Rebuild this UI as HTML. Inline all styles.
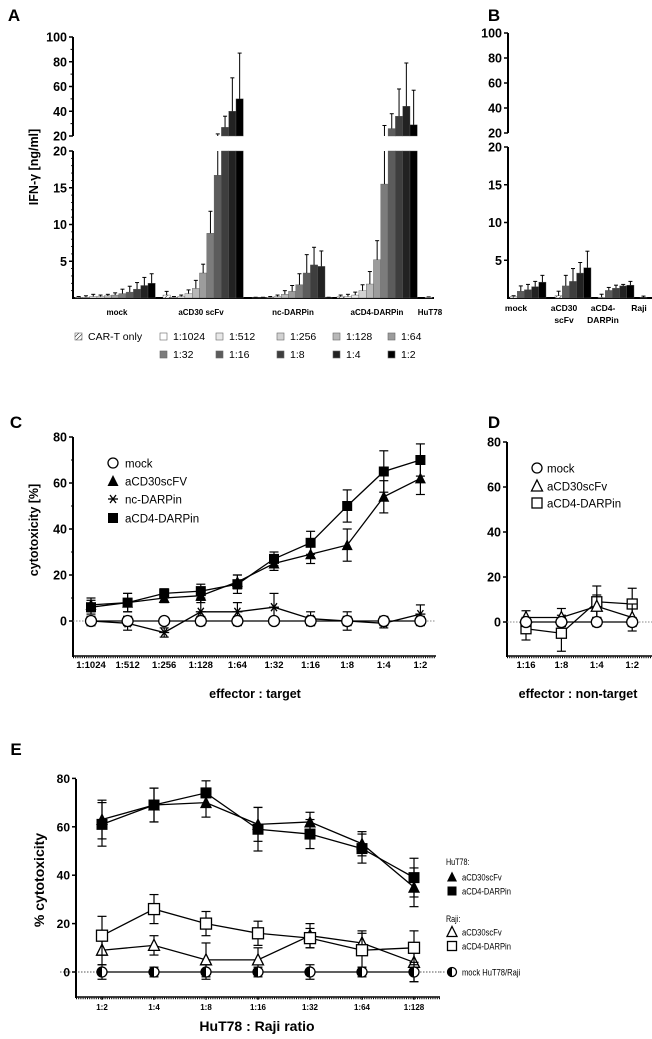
<!DOCTYPE html>
<html><head><meta charset="utf-8">
<style>
body{margin:0;background:#fff;}
svg{display:block;font-family:"Liberation Sans",Arial,sans-serif;}
</style></head>
<body>
<svg id="fig" width="652" height="1039" viewBox="0 0 652 1039" xmlns="http://www.w3.org/2000/svg">
<defs>
<pattern id="hatch" patternUnits="userSpaceOnUse" width="3" height="3" patternTransform="rotate(45)">
<rect width="3" height="3" fill="#fff"/><line x1="0" y1="0" x2="0" y2="3" stroke="#000" stroke-width="1"/>
</pattern>
</defs>
<g id="root"></g>
</svg>
<script>
// ---------- Panel A data ----------
const aGroups = ["mock","aCD30 scFv","nc-DARPin","aCD4-DARPin"];
const aRatios = ["CAR-T only","1:1024","1:512","1:256","1:128","1:64","1:32","1:16","1:8","1:4","1:2"];
const aMock   = [0.1,0.1,0.2,0.2,0.3,0.4,0.6,0.8,1.2,1.7,2.0];
const aMockE  = [0.1,0.2,0.3,0.2,0.2,0.3,0.6,0.8,0.9,1.1,1.3];
const aCD30   = [0.4,0.1,0.2,0.6,1.3,3.4,8.8,16.7,27,40,50];
const aCD30E  = [0.5,0.1,0.2,0.5,1.1,1.2,3.0,5.0,9,27,37];
const aNC     = [0.05,0.05,0.1,0.2,0.5,0.9,1.8,3.4,4.5,4.3,0.05];
const aNCE    = [0.05,0.05,0.1,0.2,0.5,0.8,1.5,2.5,2.4,2.1,0.05];
const aCD4    = [0.2,0.2,0.4,1.0,1.9,5.2,15.5,26,36,44,29];
const aCD4E   = [0.2,0.3,0.4,0.8,1.7,2.6,13,12,22,35,28];
const aHuT    = [0.1];
const aYTicksUp = [20,40,60,80,100];
const aYTicksLow = [5,10,15,20];
// ---------- Panel B data ----------
const bGroups = ["mock","aCD30 scFv","aCD4-DARPin","Raji"];
const bMock = [0.2,0.9,1.1,1.5,2.1];
const bMockE = [0.1,0.7,0.7,0.7,0.9];
const bCD30 = [0.3,1.6,2.2,3.3,4.0];
const bCD30E = [0.6,1.4,1.7,1.4,2.2];
const bCD4 = [0.1,1.0,1.3,1.6,1.7];
const bCD4E = [0.4,0.4,0.4,0.2,0.5];
const bRaji = [0.05];
const bRajiE = [0.2];
// ---------- Panel C data ----------
const cCats = ["1:1024","1:512","1:256","1:128","1:64","1:32","1:16","1:8","1:4","1:2"];
const cMock = [0,0,0,0,0,0,0,0,0,0];
const cMockE = [2,2,1,2,2,1,2,2,2,2];
const cCD30 = [7,8,10,11,17,25,29,33,54,62];
const cCD30E = [3,4,2,3,3,3,4,7,7,7];
const cNC = [0,-1,-5,4,4,6,1,0,-1,3];
const cNCE = [2,3,2,5,4,6,3,4,2,4];
const cCD4 = [6,8,12,13,16,27,34,50,65,70];
const cCD4E = [3,4,2,3,4,3,5,7,9,7];
const cYTicks = [0,20,40,60,80];
// ---------- Panel D data ----------
const dCats = ["1:16","1:8","1:4","1:2"];
const dMock = [0,0,0,0];
const dMockE = [2,2,2,2];
const dCD30 = [2,2,7,2];
const dCD30E = [3,4,5,6];
const dCD4 = [-3,-5,9,8];
const dCD4E = [5,8,7,7];
// ---------- Panel E data ----------
const eCats = ["1:2","1:4","1:8","1:16","1:32","1:64","1:128"];
const eHuCD30 = [63,69,70,61,62,53,35];
const eHuCD30E = [8,7,6,7,4,5,8];
const eHuCD4 = [61,69,74,59,57,51,39];
const eHuCD4E = [9,7,5,9,6,6,8];
const eRaCD30 = [9,11,5,5,15,12,4];
const eRaCD30E = [6,4,7,5,5,5,8];
const eRaCD4 = [15,26,20,16,14,9,10];
const eRaCD4E = [8,6,5,5,4,7,7];
const eMock = [0,0,0,0,0,0,0];
const eMockE = [3,2,3,2,3,2,4];
const eYTicks = [0,20,40,60,80];

const NS="http://www.w3.org/2000/svg";
const root=document.getElementById('root');
function el(tag,attrs,parent,name){
  const e=document.createElementNS(NS,tag);
  for(const k in attrs)e.setAttribute(k,attrs[k]);
  
  
  (parent||root).appendChild(e);return e;
}
function txt(x,y,s,size,opts,name){
  opts=opts||{};
  const t=el('text',{x:x,y:y,'font-size':size,'text-anchor':opts.anchor||'middle','font-weight':opts.bold?'bold':'normal',fill:'#000'},opts.parent,name||'label');
  if(opts.rot)t.setAttribute('transform','rotate(-90 '+x+' '+y+')');
  if(opts.sx)t.setAttribute('transform','translate('+x+' '+y+') scale('+opts.sx+' 1) translate('+(-x)+' '+(-y)+')');
  t.textContent=s;return t;
}
function line(x1,y1,x2,y2,w,name,dash,col){
  const l=el('line',{x1:x1,y1:y1,x2:x2,y2:y2,stroke:col||'#000','stroke-width':w||1},null,name||'line');
  if(dash)l.setAttribute('stroke-dasharray',dash);return l;
}
// Panel letters
txt(14,21,"A",17,{bold:true},'panel-a-label');
txt(494,21,"B",17,{bold:true},'panel-b-label');
txt(16,428,"C",17,{bold:true},'panel-c-label');
txt(494,428,"D",17,{bold:true},'panel-d-label');
txt(16,755,"E",17,{bold:true},'panel-e-label');

// ===== Panel A =====
const shades=["url(#hatch)","#ffffff","#e8e8e8","#d2d2d2","#b8b8b8","#9c9c9c","#7c7c7c","#5c5c5c","#3e3e3e","#222222","#000000"];
function yLowA(v){return 298-Math.min(v,20)*7.35;}
function yUpA(v){return 136-(v-20)*1.2375;}
function drawBrokenBar(x,w,v,e,fill,name){
  const yb=yLowA(v);
  el('rect',{x:x,y:yb,width:w,height:298-yb,fill:fill,stroke:'#555','stroke-width':0.4},null,name);
  if(v>20){
    const yt=yUpA(v);
    el('rect',{x:x,y:yt,width:w,height:136-yt,fill:fill,stroke:'#555','stroke-width':0.4},null,name);
  }
  const top=v+e; const cx=x+w/2;
  let yTop;
  if(top<=20){yTop=yLowA(top);line(cx,yb,cx,yTop,1,'error-bar');line(cx-2,yTop,cx+2,yTop,1,'error-cap');}
  else{
    yTop=yUpA(top);
    if(v>20){line(cx,yUpA(v),cx,yTop,1,'error-bar');}
    else{line(cx,yb,cx,151,1,'error-bar');line(cx,136,cx,yTop,1,'error-bar');}
    line(cx-2,yTop,cx+2,yTop,1,'error-cap');
  }
}
// A axes
line(73,37,73,136,2,'a-y-axis-upper');
line(73,151,73,298,2,'a-y-axis-lower');
line(72,298,434,298,2,'a-x-axis');
aYTicksUp.forEach(v=>{const y=yUpA(v);line(69,y,73,y,1.5,'a-y-tick');txt(67,y+4.5,String(v),12.5,{anchor:'end',bold:true},'a-y-tick-label');});
for(let v=30;v<100;v+=20){line(70.5,yUpA(v),73,yUpA(v),1,'a-y-minor-tick');}
aYTicksLow.forEach(v=>{const y=yLowA(v);line(69,y,73,y,1.5,'a-y-tick');txt(67,y+4.5,String(v),12.5,{anchor:'end',bold:true},'a-y-tick-label');});
for(let v=1;v<20;v++){if(v%5)line(71,yLowA(v),73,yLowA(v),0.8,'a-y-minor-tick');}
txt(38,167,"IFN-γ [ng/ml]",12.5,{bold:true,rot:true},'a-y-axis-title');
const aStarts=[75,163,252,337];
const aSets=[[aMock,aMockE],[aCD30,aCD30E],[aNC,aNCE],[aCD4,aCD4E]];
const bw=7.3;
aSets.forEach((s,g)=>{
  s[0].forEach((v,i)=>{drawBrokenBar(aStarts[g]+i*bw,bw,v,s[1][i],shades[i],'a-bar-'+g+'-'+i);});
});
drawBrokenBar(425,bw,aHuT[0],0.05,shades[1],'a-bar-hut78');
const aGroupX=[117,201,293,377];
aGroups.forEach((gname,g)=>txt(aGroupX[g],315,gname,8,{bold:true},'a-group-label'));
txt(430,315,"HuT78",8,{bold:true},'a-group-label');
// Legend A
const legRow1=[[75,0],[160,1],[216,2],[277,3],[333,4],[388,5]];
legRow1.forEach(([x,i])=>{el('rect',{x:x,y:333,width:7,height:7,fill:shades[i],stroke:'#666','stroke-width':0.6},null,'legend-swatch');txt(x+13,340,aRatios[i],10.5,{anchor:'start'},'legend-entry');});
const legRow2=[[160,6],[216,7],[277,8],[333,9],[388,10]];
legRow2.forEach(([x,i])=>{el('rect',{x:x,y:351,width:7,height:7,fill:shades[i],stroke:'#666','stroke-width':0.6},null,'legend-swatch');txt(x+13,358,aRatios[i],10.5,{anchor:'start'},'legend-entry');});

// ===== Panel B =====
function yUpB(v){return 133-(v-20)*1.25;}
function yLowB(v){return 298-v*7.55;}
line(508,33,508,133,2,'b-y-axis-upper');
line(508,147,508,298,2,'b-y-axis-lower');
line(507,298,652,298,2,'b-x-axis');
aYTicksUp.forEach(v=>{const y=yUpB(v);line(504,y,508,y,1.5,'b-y-tick');txt(502,y+4.5,String(v),12.5,{anchor:'end',bold:true},'b-y-tick-label');});
aYTicksLow.forEach(v=>{const y=yLowB(v);line(504,y,508,y,1.5,'b-y-tick');txt(502,y+4.5,String(v),12.5,{anchor:'end',bold:true},'b-y-tick-label');});
const bShades=["url(#hatch)","#5c5c5c","#3e3e3e","#222222","#000000"];
const bStarts=[510,555,598];
[[bMock,bMockE],[bCD30,bCD30E],[bCD4,bCD4E]].forEach((s,g)=>{
  s[0].forEach((v,i)=>{
    const x=bStarts[g]+i*7.2,yb=yLowB(v);
    el('rect',{x:x,y:yb,width:7.2,height:298-yb,fill:bShades[i],stroke:'#555','stroke-width':0.4},null,'b-bar');
    const yt=yLowB(v+s[1][i]);line(x+3.6,yb,x+3.6,yt,1,'b-error-bar');line(x+1.6,yt,x+5.6,yt,1,'b-error-cap');
  });
});
{const x=640,yb=yLowB(bRaji[0]);el('rect',{x:x,y:yb,width:7,height:298-yb,fill:'#fff',stroke:'#555','stroke-width':0.4},null,'b-bar-raji');const yt=yLowB(bRaji[0]+bRajiE[0]);line(x+3.5,yb,x+3.5,yt,1,'b-error-bar');line(x+1.5,yt,x+5.5,yt,1,'b-error-cap');}
txt(516,311,"mock",8.5,{bold:true},'b-group-label');
txt(564,311,"aCD30",8.5,{bold:true},'b-group-label');
txt(564,323,"scFv",8.5,{bold:true},'b-group-label');
txt(603,311,"aCD4-",8.5,{bold:true},'b-group-label');
txt(603,323,"DARPin",8.5,{bold:true},'b-group-label');
txt(639,311,"Raji",8.5,{bold:true},'b-group-label');

// ===== marker helpers =====
function marker(type,x,y,s,name){
  const h=s/2;
  if(type==='circle')el('circle',{cx:x,cy:y,r:h,fill:'#fff',stroke:'#000','stroke-width':1.3},null,name);
  else if(type==='sq')el('rect',{x:x-h,y:y-h,width:s,height:s,fill:'#000'},null,name);
  else if(type==='osq')el('rect',{x:x-h,y:y-h,width:s,height:s,fill:'#fff',stroke:'#000','stroke-width':1.3},null,name);
  else if(type==='tri')el('polygon',{points:(x)+','+(y-h-1)+' '+(x+h+0.5)+','+(y+h)+' '+(x-h-0.5)+','+(y+h),fill:'#000'},null,name);
  else if(type==='otri')el('polygon',{points:(x)+','+(y-h-1)+' '+(x+h+0.5)+','+(y+h)+' '+(x-h-0.5)+','+(y+h),fill:'#fff',stroke:'#000','stroke-width':1.3},null,name);
  else if(type==='star'){line(x-h,y,x+h,y,1.3,name);line(x-h*0.6,y-h*0.8,x+h*0.6,y+h*0.8,1.3,name);line(x-h*0.6,y+h*0.8,x+h*0.6,y-h*0.8,1.3,name);}
  else if(type==='half'){
    el('circle',{cx:x,cy:y,r:h,fill:'#fff',stroke:'#000','stroke-width':1.3},null,name);
    el('path',{d:'M'+x+','+(y-h)+' A'+h+','+h+' 0 0 0 '+x+','+(y+h)+' Z',fill:'#000'},null,name);
  }
}
function series(vals,errs,xf,yf,type,s,name){
  const pts=vals.map((v,i)=>xf(i)+','+yf(v)).join(' ');
  el('polyline',{points:pts,fill:'none',stroke:'#000','stroke-width':1.3},null,name+'-line');
  vals.forEach((v,i)=>{const x=xf(i),y1=yf(v+errs[i]),y2=yf(v-errs[i]);
    line(x,y1,x,y2,1.2,name+'-error-bar');line(x-4.5,y1,x+4.5,y1,1.2,name+'-error-cap');line(x-4.5,y2,x+4.5,y2,1.2,name+'-error-cap');});
  vals.forEach((v,i)=>marker(type,xf(i),yf(v),s,name+'-point'));
}
function dottedAxis(x1,x2,y){line(x1,y,x2,y,1.5,'x-axis');line(x1,y+1.5,x2,y+1.5,1.5,'x-axis-minor-ticks','1 1.2');}

// ===== Panel C =====
const xC=i=>91+i*36.6, yC=v=>621-v*2.3;
line(73,437,73,657,2,'c-y-axis');
dottedAxis(73,436,656);
line(73,yC(0),436,yC(0),1,'c-zero-line','1.5 1.5','#888');
cYTicks.forEach(v=>{line(69,yC(v),73,yC(v),1.5,'c-y-tick');txt(67,yC(v)+4.5,String(v),12.5,{anchor:'end',bold:true},'c-y-tick-label');});
[10,30,50,70].forEach(v=>line(71,yC(v),73,yC(v),1,'c-y-minor-tick'));
cCats.forEach((c,i)=>txt(xC(i),668,c,9.5,{bold:true},'c-x-tick-label'));
txt(255,698,"effector : target",12.5,{bold:true},'c-x-axis-title');
txt(38,530,"cytotoxicity [%]",12.5,{bold:true,rot:true},'c-y-axis-title');
series(cNC,cNCE,xC,yC,'star',10,'c-nc-darpin');
series(cMock,cMockE,xC,yC,'circle',11,'c-mock');
series(cCD30,cCD30E,xC,yC,'tri',10,'c-acd30');
series(cCD4,cCD4E,xC,yC,'sq',10,'c-acd4');
const cLeg=[['circle','mock',463],['tri','aCD30scFV',481],['star','nc-DARPin',499],['sq','aCD4-DARPin',518]];
cLeg.forEach(([t,l,y])=>{marker(t,113,y,10,'c-legend-marker');txt(125,y+4.5,l,11.5,{anchor:'start'},'c-legend-entry');});

// ===== Panel D =====
const xD=i=>526+i*35.4, yD=v=>622-v*2.25;
line(507,442,507,657,2,'d-y-axis');
dottedAxis(507,652,656);
line(507,yD(0),652,yD(0),1,'d-zero-line','1.5 1.5','#888');
cYTicks.forEach(v=>{line(503,yD(v),507,yD(v),1.5,'d-y-tick');txt(501,yD(v)+4.5,String(v),12.5,{anchor:'end',bold:true},'d-y-tick-label');});
dCats.forEach((c,i)=>txt(xD(i),668,c,9.5,{bold:true},'d-x-tick-label'));
txt(578,698,"effector : non-target",12.5,{bold:true},'d-x-axis-title');
series(dCD4,dCD4E,xD,yD,'osq',10,'d-acd4');
series(dCD30,dCD30E,xD,yD,'otri',10,'d-acd30');
series(dMock,dMockE,xD,yD,'circle',11,'d-mock');
const dLeg=[['circle','mock',468],['otri','aCD30scFv',486],['osq','aCD4-DARPin',503]];
dLeg.forEach(([t,l,y])=>{marker(t,537,y,10,'d-legend-marker');txt(547,y+4.5,l,11.5,{anchor:'start'},'d-legend-entry');});

// ===== Panel E =====
const xE=i=>102+i*52, yE=v=>972-v*2.42;
line(76,779,76,998,2,'e-y-axis');
dottedAxis(76,440,997);
line(60,yE(0),440,yE(0),1,'e-zero-line','1.5 1.5','#555');
eYTicks.forEach(v=>{line(72,yE(v),76,yE(v),1.5,'e-y-tick');txt(70,yE(v)+4.5,String(v),12,{anchor:'end',bold:true},'e-y-tick-label');});
eCats.forEach((c,i)=>{line(xE(i),997,xE(i),1000,1,'e-x-tick');txt(xE(i),1010,c,8,{bold:true},'e-x-tick-label');});
txt(257,1031,"HuT78 : Raji ratio",14,{bold:true},'e-x-axis-title');
txt(44,880,"% cytotoxicity",14,{bold:true,rot:true},'e-y-axis-title');
series(eRaCD30,eRaCD30E,xE,yE,'otri',10,'e-raji-acd30');
series(eRaCD4,eRaCD4E,xE,yE,'osq',11,'e-raji-acd4');
series(eHuCD30,eHuCD30E,xE,yE,'tri',11,'e-hut78-acd30');
series(eHuCD4,eHuCD4E,xE,yE,'sq',11,'e-hut78-acd4');
series(eMock,eMockE,xE,yE,'half',10,'e-mock');
line(440,yE(0),445,yE(0),1,'e-zero-line-ext','1.5 1.5','#555');
txt(446,865,"HuT78:",9,{anchor:'start',sx:0.8},'e-legend-heading');
txt(446,922,"Raji:",9,{anchor:'start',sx:0.8},'e-legend-heading');
const eLeg=[['tri','aCD30scFv',877],['sq','aCD4-DARPin',891],['otri','aCD30scFv',932],['osq','aCD4-DARPin',946],['half','mock HuT78/Raji',972]];
eLeg.forEach(([t,l,y])=>{marker(t,452,y,9,'e-legend-marker');txt(462,y+3.5,l,9.5,{anchor:'start',sx:0.8},'e-legend-entry');});
</script>
</body></html>
